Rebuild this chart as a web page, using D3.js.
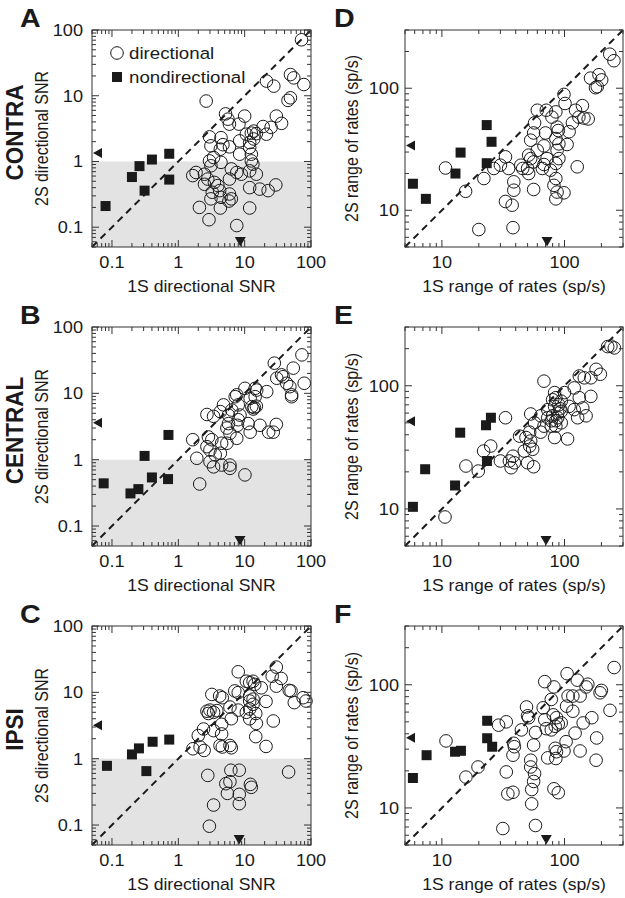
<!DOCTYPE html>
<html><head><meta charset="utf-8">
<script src="https://cdn.jsdelivr.net/npm/d3@7"></script>
<style>body{margin:0;background:#fff}svg{display:block}</style>
</head><body><svg id="c" width="625" height="898"></svg>
<script>
// ---------- tick labels / domains ----------
const snrTicks = [0.1, 1, 10, 100];
const rateTicks = [10, 100];
const snrDomain = [0.05, 100];
const rateDomain = [5, 300];
const rowLabels = ["CONTRA", "CENTRAL", "IPSI"];
const panelLetters = ["A", "B", "C", "D", "E", "F"];
const legendLabels = ["directional", "nondirectional"];

// ---------- data: [1S value, 2S value] ----------
// A: CONTRA directional SNR
const contraSnrDir = [[72,71],[21.3,16.7],[27.5,14],[49,21],[55,18.7],[78,14.8],[49,9.3],[45,8.5],[2.63,8.3],[5.15,5.3],[5.6,4.4],[5.9,3.7],[10,4.9],[8.2,3.7],[13.7,2.9],[15,2.65],[12.6,2.7],[13.7,2.2],[30,4.9],[36,3.8],[21.3,2.6],[25,3.3],[19,3.4],[2.95,2.37],[3.1,1.73],[4.4,2.3],[4.7,1.8],[4.3,1.54],[5.9,1.67],[8.4,2.06],[11.9,1.94],[10.6,2.6],[8.4,1.29],[12.6,1.29],[12.6,1.02],[11.9,1.63],[2.95,1.02],[3.4,1.15],[13.3,0.91],[3.1,0.86],[4.4,0.97],[1.85,0.68],[1.65,0.61],[2.48,0.64],[2.78,0.54],[3.5,0.48],[2.48,0.45],[4.2,0.36],[3.95,0.43],[4.4,0.285],[5.9,0.32],[6.3,0.27],[6.3,0.77],[7.6,0.68],[8.9,0.64],[11.9,0.72],[15,0.64],[11.9,0.40],[16.9,0.38],[22.6,0.36],[29.5,0.44],[2.08,0.2],[3.1,0.27],[4.3,0.196],[5.8,0.25],[11.9,0.196],[2.9,0.13],[7.6,0.106],[5.9,0.54],[3.25,0.34]];
const contraSnrNon = [[0.08,0.21],[0.2,0.58],[0.26,0.85],[0.31,0.36],[0.4,1.07],[0.73,1.31],[0.73,0.53]];
const contraSnrMedian = [8.6, 1.35];

// B: CENTRAL directional SNR
const centralSnrDir = [[73,38],[54,24],[79,14.2],[48,12.6],[51,9.5],[43,14.2],[28,28.5],[30.5,16.9],[36,19],[21.5,10.6],[14.4,11.9],[10.1,11.9],[7.6,9.5],[12.1,8.4],[12.8,6.3],[14,6.1],[15,6.4],[13.5,5.8],[8,6.7],[8.5,4.7],[4.8,6.7],[6.4,5.6],[4.3,5.3],[2.7,4.8],[3.4,4.5],[5.7,3.5],[5.4,3],[8,4],[12.1,2.6],[17,3.3],[23,2.6],[27,2.6],[30,3.4],[11.3,3.5],[6,2.5],[7.6,2.1],[4.5,1.77],[3.2,2],[2.84,2.2],[1.65,2],[2.7,1.57],[3,1.4],[4.3,1.25],[1.9,1.05],[3,0.93],[3.4,0.78],[4.5,0.83],[6,0.83],[6,0.74],[10.1,0.59],[2.1,0.43],[5.4,1.77],[3.6,1.18],[14.4,8.9],[7.8,3.3],[5.7,4.7],[51,8.9],[38,17.8],[15.2,11.2],[7.2,8.9]];
const centralSnrNon = [[0.075,0.44],[0.19,0.31],[0.25,0.36],[0.31,1.14],[0.4,0.54],[0.7,0.51],[0.71,2.36]];
const centralSnrMedian = [8.5, 3.6];

// C: IPSI directional SNR
const ipsiSnrDir = [[8,20.4],[30,24],[26,17.5],[35.5,16.2],[30,12.4],[10.6,14.7],[11.9,14],[13.4,14.7],[14.2,13.2],[17.8,11.7],[8,9.9],[7.1,10.5],[11.9,7.4],[13.4,7.9],[11.9,8.8],[21,7.3],[47,10.7],[50,10.5],[76,8.3],[84,7.4],[56,7],[14.7,4.8],[11.9,4],[15,3.4],[10.6,5],[27,3.7],[14.7,2.15],[21,1.53],[3.2,9.3],[4.2,8.8],[4.6,8.3],[2.7,5.2],[2.84,4.8],[3,5.4],[3.4,5],[3.8,5.3],[6,6],[6.3,4],[4.5,3.3],[3.4,2.65],[4.5,2.36],[2.4,2.8],[2,2.23],[1.66,1.41],[2.13,1.5],[2.45,1.33],[4.25,1.58],[4.6,1.5],[6,1.58],[6.3,1.46],[2.78,0.56],[6.2,0.67],[8.3,0.67],[5.2,0.42],[6,0.45],[5.5,0.3],[8.3,0.29],[12.2,0.41],[12.6,0.37],[46,0.63],[3.4,0.2],[8.3,0.21],[2.94,0.096],[11.9,5.6],[13.4,6.6],[8,5.4]];
const ipsiSnrNon = [[0.084,0.78],[0.2,1.16],[0.255,1.43],[0.33,0.65],[0.41,1.8],[0.73,1.94]];
const ipsiSnrMedian = [8.25, 3.2];

// D: CONTRA range of rates
const contraRateDir = [[234,190],[253,168],[163,121],[191,129],[201,117],[179,101],[185,103],[99,89],[101,75],[71,66],[85,64],[79,58],[123,66],[140,72],[131,58],[144,57],[156,56],[116,52],[87,48],[89,45],[57,52],[70,43],[109,44],[56,43],[53,37.5],[85,38.7],[90,35],[105,34.6],[68,33.7],[51,28.3],[53,26.5],[56,24.9],[87,31],[90,26.5],[85,24.2],[77,21.3],[85,18.2],[82,16],[87,14.1],[99,13.9],[85,12.4],[68,23.7],[66,22],[50,22],[51,20],[44,23.4],[33,27.4],[35,22],[30,23.4],[26.5,22],[22,18.2],[15.6,14.3],[10.7,22.2],[38.6,17.1],[38.6,14.6],[33,11.8],[37.4,11],[20,6.95],[38,7.2],[56,14.8],[127,22.7],[60,66],[60,31],[72,26.5],[45.6,22]];
const contraRateNon = [[5.8,16.5],[7.4,12.4],[12.9,20],[14.2,29.7],[23.2,49.9],[25.4,36.4],[23.2,24.3]];
const contraRateMedian = [72, 34];

// E: CENTRAL range of rates
const centralRateDir = [[239,210],[255,203],[225,208],[181,136],[196,124],[164,116],[145,116],[132,120],[120,96],[164,82],[132,80],[141,66],[128,55],[100,88],[109,68],[68,109],[85,80],[94,75],[83,68],[88,60],[80,57],[85,52],[78,47],[94,50],[120,64],[106,37],[83,38],[68,47],[64,57],[73,64],[53,59],[57,50],[52,42],[48.5,38],[53,35.6],[55,30.5],[47,29.5],[43,39],[56,22],[33,55],[38,26.8],[39,23.7],[35.5,24.5],[30,24.5],[36.7,21.6],[25,32.4],[21.9,29.5],[19.8,20.3],[15.7,22.3],[10.6,8.6],[50,23.7],[52,32.4],[94,62],[80,77],[64,42],[73,55],[85,47],[83,88],[150,57],[90,70],[88,55],[92,65],[78,52]];
const centralRateNon = [[5.8,10.4],[7.3,21],[12.8,15.5],[14.1,41.6],[22.9,47.8],[25.1,55],[23.3,24.5]];
const centralRateMedian = [70.6, 51.6];

// F: IPSI range of rates
const ipsiRateDir = [[254,138],[105,123],[127,109],[155,101],[195,86],[200,90],[235,62],[69,106],[82,96],[107,81],[117,81],[134,81],[150,96],[78,76],[104,67],[117,61],[67,65],[49,66],[50,56],[51,54],[69,52],[81,57],[86,54],[84,46],[89,48],[94,49],[71,44],[78,43],[142,49],[167,54],[58,41],[44.5,43],[33.5,50],[38.5,33.5],[39,31.4],[38,26.8],[56,32.4],[103,34.5],[84,30.5],[86,28.6],[99,29],[73,25.5],[85,25.2],[122,40.5],[134,29],[183,37],[181,24.4],[10.8,35],[19.7,21.5],[15.7,17.8],[29,47],[33.5,19.6],[34.5,13],[38,13.4],[53,21.5],[53,24.4],[57,19],[56,16.4],[54,14.1],[54,10.8],[82,14.3],[89,13.3],[31.4,6.8],[58,7.2]];
const ipsiRateNon = [[5.8,17.5],[7.5,26.8],[12.8,28.6],[14.3,29.1],[23.4,51],[23.4,36.8],[25.7,31.4]];
const ipsiRateMedian = [71, 37.2];

// ---------- drawing ----------
const FONT = "'Liberation Sans', Arial, Helvetica, sans-serif";
const SX = 1.1;       // horizontal glyph stretch seen in the reference
const INK = "#1a1a1a";
const svg = d3.select("#c");

function txt(g, x, y, s, o) {
  o = o || {};
  return g.append("text")
    .attr("transform", `translate(${x},${y}) scale(${SX},1)` + (o.rot ? " rotate(-90)" : ""))
    .attr("font-family", FONT)
    .attr("font-size", o.size || 16)
    .attr("font-weight", o.weight || "normal")
    .attr("text-anchor", o.anchor || "middle")
    .attr("fill", INK)
    .text(s);
}

function fmt(v) { return v < 1 ? String(v) : d3.format("d")(v); }

function panel(cfg) {
  const [x0, x1, y0, y1] = cfg.box;
  const g = svg.append("g");
  const x = d3.scaleLog().domain(cfg.domain).range([x0, x1]);
  const y = d3.scaleLog().domain(cfg.domain).range([y1, y0]);

  if (cfg.gray) {
    g.append("rect").attr("x", x0).attr("width", x1 - x0)
      .attr("y", y(1)).attr("height", y1 - y(1)).attr("fill", "#e3e3e3");
  }
  // unity line
  g.append("line")
    .attr("x1", x(cfg.domain[0])).attr("y1", y(cfg.domain[0]))
    .attr("x2", x(cfg.domain[1])).attr("y2", y(cfg.domain[1]))
    .attr("stroke", INK).attr("stroke-width", 2).attr("stroke-dasharray", "7,5");

  // directional circles
  g.append("g").selectAll("circle").data(cfg.dir).join("circle")
    .attr("cx", d => x(d[0])).attr("cy", d => y(d[1])).attr("r", 6.3)
    .attr("fill", "none").attr("stroke", INK).attr("stroke-width", 1);
  // nondirectional squares
  g.append("g").selectAll("rect").data(cfg.non).join("rect")
    .attr("x", d => x(d[0]) - 5).attr("y", d => y(d[1]) - 5)
    .attr("width", 10).attr("height", 10).attr("fill", INK);

  // medians: triangles on the axes
  const mx = x(cfg.median[0]), my = y(cfg.median[1]);
  g.append("path").attr("d", `M${mx},${y1 - 0.5} L${mx - 5.5},${y1 - 10} L${mx + 5.5},${y1 - 10} Z`).attr("fill", INK);
  g.append("path").attr("d", `M${x0 + 1},${my} L${x0 + 10},${my - 5} L${x0 + 10},${my + 5} Z`).attr("fill", INK);

  // frame
  g.append("rect").attr("x", x0).attr("y", y0).attr("width", x1 - x0).attr("height", y1 - y0)
    .attr("fill", "none").attr("stroke", "#333").attr("stroke-width", 1);

  // ticks (inward on all four sides)
  const all = x.ticks();
  const isMajor = v => Math.abs(Math.log10(v) - Math.round(Math.log10(v))) < 1e-6;
  const tg = g.append("g").attr("stroke", "#333").attr("stroke-width", 1);
  all.forEach(v => {
    const L = isMajor(v) ? 7 : 4;
    const px = x(v), py = y(v);
    tg.append("line").attr("x1", px).attr("x2", px).attr("y1", y1).attr("y2", y1 - L);
    tg.append("line").attr("x1", px).attr("x2", px).attr("y1", y0).attr("y2", y0 + L);
    tg.append("line").attr("y1", py).attr("y2", py).attr("x1", x0).attr("x2", x0 + L);
    tg.append("line").attr("y1", py).attr("y2", py).attr("x1", x1).attr("x2", x1 - L);
  });
  cfg.ticks.forEach(v => {
    txt(g, x(v), y1 + 21, fmt(v), { size: 16.5 });
    txt(g, x0 - cfg.ylabGap, y(v) + 6, fmt(v), { size: 16.5, anchor: "end" });
  });

  // axis titles
  txt(g, (x0 + x1) / 2, y1 + 45, cfg.xTitle, { size: 16 });
  txt(g, cfg.yTitleX, (y0 + y1) / 2, cfg.yTitle, { size: 16, rot: true });

  // panel letter
  txt(g, cfg.letterX, y0 - 3, cfg.letter, { size: 26, weight: "bold", anchor: "start" });

  if (cfg.legend) {
    g.append("circle").attr("cx", x0 + 25).attr("cy", y0 + 23).attr("r", 6.3)
      .attr("fill", "none").attr("stroke", INK);
    txt(g, x0 + 37, y0 + 29, legendLabels[0], { size: 17, anchor: "start" });
    g.append("rect").attr("x", x0 + 20).attr("y", y0 + 42).attr("width", 10).attr("height", 10).attr("fill", INK);
    txt(g, x0 + 37, y0 + 53, legendLabels[1], { size: 17, anchor: "start" });
  }
}

const rows = [[30, 247], [327, 546], [626, 845]];
const left = [92, 311], right = [405, 623];
const snrSets = [[contraSnrDir, contraSnrNon, contraSnrMedian], [centralSnrDir, centralSnrNon, centralSnrMedian], [ipsiSnrDir, ipsiSnrNon, ipsiSnrMedian]];
const rateSets = [[contraRateDir, contraRateNon, contraRateMedian], [centralRateDir, centralRateNon, centralRateMedian], [ipsiRateDir, ipsiRateNon, ipsiRateMedian]];

rows.forEach((r, i) => {
  panel({
    box: [left[0], left[1], r[0], r[1]], domain: snrDomain, ticks: snrTicks,
    dir: snrSets[i][0], non: snrSets[i][1], median: snrSets[i][2],
    gray: true, legend: i === 0, letter: panelLetters[i], letterX: 20,
    xTitle: "1S directional SNR", yTitle: "2S directional SNR", yTitleX: 48, ylabGap: 9
  });
  panel({
    box: [right[0], right[1], r[0], r[1]], domain: rateDomain, ticks: rateTicks,
    dir: rateSets[i][0], non: rateSets[i][1], median: rateSets[i][2],
    gray: false, legend: false, letter: panelLetters[i + 3], letterX: 334,
    xTitle: "1S range of rates (sp/s)", yTitle: "2S range of rates (sp/s)", yTitleX: 358, ylabGap: 6
  });
  txt(svg, 23, (r[0] + r[1]) / 2 - 6, rowLabels[i], { size: 22.5, weight: "bold", rot: true });
});
</script></body></html>
